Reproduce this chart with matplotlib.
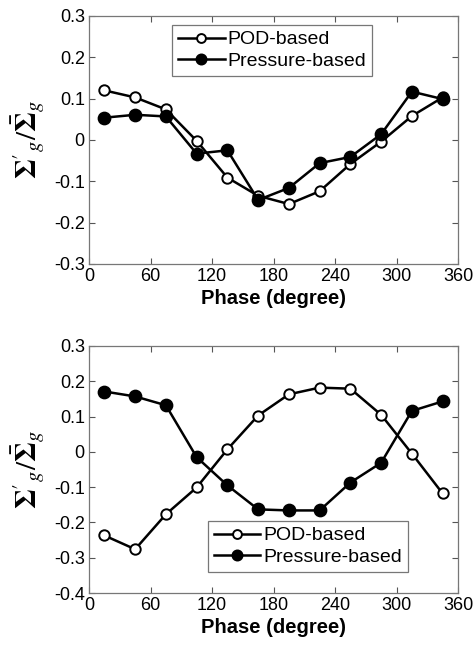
import matplotlib
matplotlib.use('Agg')
import matplotlib.pyplot as plt
from matplotlib.ticker import FuncFormatter

plt.rcParams['font.family'] = ['Liberation Sans', 'DejaVu Sans']
plt.rcParams['mathtext.fontset'] = 'stix'

phase = [15, 45, 75, 105, 135, 165, 195, 225, 255, 285, 315, 345]

# upper panel
pod_top = [0.120, 0.103, 0.074, -0.002, -0.091, -0.135, -0.155, -0.124, -0.058, -0.004, 0.058, 0.103]
prs_top = [0.054, 0.061, 0.057, -0.033, -0.025, -0.145, -0.116, -0.056, -0.041, 0.014, 0.117, 0.099]

# lower panel
pod_bot = [-0.237, -0.276, -0.177, -0.101, 0.007, 0.103, 0.163, 0.182, 0.179, 0.105, -0.005, -0.118]
prs_bot = [0.171, 0.157, 0.132, -0.015, -0.095, -0.163, -0.166, -0.166, -0.087, -0.031, 0.116, 0.143]

xticks = [0, 60, 120, 180, 240, 300, 360]


def fmt(v, pos):
    if abs(v) < 1e-9:
        return '0'
    return '%.1f' % v


def panel(ax, pod, prs, ylim, yticks, legbox):
    ax.plot(phase, pod, '-o', color='black', mfc='white', mec='black',
            ms=7.5, mew=1.4, lw=1.8, label='POD-based')
    ax.plot(phase, prs, '-o', color='black', mfc='black', mec='black',
            ms=8.5, mew=1.4, lw=1.8, label='Pressure-based')
    ax.set_xlim(0, 360)
    ax.set_ylim(*ylim)
    ax.set_xticks(xticks)
    ax.set_yticks(yticks)
    ax.yaxis.set_major_formatter(FuncFormatter(fmt))
    ax.tick_params(direction='in', top=True, right=True, length=4,
                   width=0.8, color='#555555', labelsize=13, pad=3)
    for s in ax.spines.values():
        s.set_color('#777777')
        s.set_linewidth(0.9)
    ax.set_xlabel('Phase (degree)', fontsize=14.5, fontweight='bold', labelpad=3)
    ax.set_ylabel(r"$\mathbf{\Sigma}'_{g}/\bar{\mathbf{\Sigma}}_{g}$", fontsize=21)
    ax.yaxis.set_label_coords(-0.115, 0.5)
    leg = ax.legend(loc='upper left', bbox_to_anchor=legbox, fontsize=14,
                    frameon=True, fancybox=False, edgecolor='#555555',
                    handlelength=2.4, handletextpad=0.15, borderpad=0.3,
                    labelspacing=0.2, borderaxespad=0, markerscale=0.85)
    leg.get_frame().set_linewidth(0.9)


fig = plt.figure(figsize=(4.77, 6.45), dpi=100)
ax1 = fig.add_axes([0.1866, 0.5907, 0.7736, 0.3845])
ax2 = fig.add_axes([0.1866, 0.0806, 0.7736, 0.3830])

panel(ax1, pod_top, prs_top, (-0.3, 0.3),
      [-0.3, -0.2, -0.1, 0, 0.1, 0.2, 0.3], (0.225, 0.964))
panel(ax2, pod_bot, prs_bot, (-0.4, 0.3),
      [-0.4, -0.3, -0.2, -0.1, 0, 0.1, 0.2, 0.3], (0.322, 0.292))

fig.savefig('out.png', dpi=100)
